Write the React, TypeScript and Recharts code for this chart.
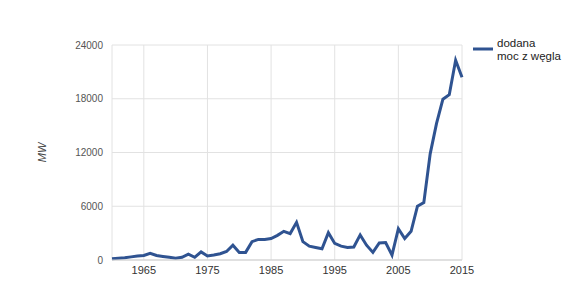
import { LineChart, Line, XAxis, YAxis, CartesianGrid } from "recharts";

const years = [
  1960, 1961, 1962, 1963, 1964, 1965, 1966, 1967, 1968, 1969,
  1970, 1971, 1972, 1973, 1974, 1975, 1976, 1977, 1978, 1979,
  1980, 1981, 1982, 1983, 1984, 1985, 1986, 1987, 1988, 1989,
  1990, 1991, 1992, 1993, 1994, 1995, 1996, 1997, 1998, 1999,
  2000, 2001, 2002, 2003, 2004, 2005, 2006, 2007, 2008, 2009,
  2010, 2011, 2012, 2013, 2014, 2015,
];

// dodana moc z węgla, MW
const addedCoal = [
  150, 200, 250, 350, 450, 500, 750, 500, 400, 300,
  200, 300, 650, 300, 900, 450, 550, 700, 950, 1650,
  850, 850, 2050, 2300, 2300, 2400, 2750, 3200, 2950, 4200,
  2050, 1550, 1400, 1250, 3050, 1850, 1550, 1400, 1450, 2800,
  1650, 850, 1900, 1950, 550, 3500, 2400, 3200, 6000, 6400,
  11850, 15250, 17950, 18450, 22300, 20400,
];

const seriesName = ["dodana", "moc z węgla"];
const xTicks = [1965, 1975, 1985, 1995, 2005, 2015];
const yTicks = [0, 6000, 12000, 18000, 24000];

const data = years.map((y, i) => ({ year: y, mw: addedCoal[i] }));

const FONT = "'Liberation Sans', Arial, sans-serif";
const LINE = "#2f5391";

function LegendBox() {
  return (
    <div
      style={{
        position: "absolute",
        left: 472,
        top: 37,
        display: "flex",
        fontFamily: FONT,
        fontSize: 11.5,
        color: "#222",
        lineHeight: "13px",
      }}
    >
      <svg width={24} height={14} style={{ marginTop: 5 }}>
        <line x1={1} y1={7} x2={21} y2={7} stroke={LINE} strokeWidth={3} />
      </svg>
      <div style={{ marginLeft: 1 }}>
        {seriesName[0]}
        <br />
        {seriesName[1]}
      </div>
    </div>
  );
}

export default function App() {
  return (
    <div style={{ position: "absolute", left: 0, top: 0, width: 570, height: 298, background: "#fff" }}>
      <LineChart
        width={570}
        height={298}
        data={data}
        margin={{ top: 45, right: 108, bottom: 8, left: 0 }}
      >
        <CartesianGrid stroke="#e2e2e2" strokeWidth={1} />
        <XAxis
          dataKey="year"
          type="number"
          domain={[1960, 2015]}
          ticks={xTicks}
          height={30}
          tickLine={false}
          tickSize={0}
          tickMargin={6}
          axisLine={{ stroke: "#cfcfcf" }}
          tick={{ fill: "#333", fontSize: 11, fontFamily: FONT }}
          interval={0}
        />
        <YAxis
          type="number"
          domain={[0, 24000]}
          ticks={yTicks}
          width={112}
          tickLine={false}
          tickSize={0}
          tickMargin={9}
          axisLine={false}
          tick={{ fill: "#555", fontSize: 10, fontFamily: FONT }}
          label={{
            value: "MW",
            angle: -90,
            position: "insideLeft",
            offset: 42,
            style: { fill: "#444", fontSize: 11, fontStyle: "italic", fontFamily: FONT, textAnchor: "middle" },
          }}
        />
        <Line
          type="linear"
          dataKey="mw"
          stroke={LINE}
          strokeWidth={3}
          dot={false}
          isAnimationActive={false}
        />
      </LineChart>
      <LegendBox />
    </div>
  );
}
